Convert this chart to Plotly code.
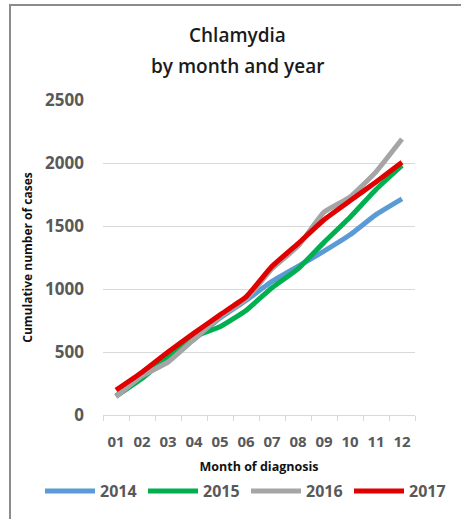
import plotly.graph_objects as go

months = ["01", "02", "03", "04", "05", "06", "07", "08", "09", "10", "11", "12"]
years = ["2014", "2015", "2016", "2017"]
cases_2014 = [150, 300, 470, 600, 770, 910, 1060, 1180, 1300, 1430, 1590, 1715]
cases_2015 = [150, 290, 460, 620, 700, 830, 1010, 1160, 1370, 1570, 1790, 1980]
cases_2016 = [145, 310, 420, 600, 780, 920, 1160, 1340, 1610, 1730, 1930, 2190]
cases_2017 = [198, 340, 500, 650, 795, 937, 1180, 1360, 1550, 1700, 1850, 2005]
y_ticks = [0, 500, 1000, 1500, 2000, 2500]
title_lines = ["Chlamydia", "by month and year"]

series = [cases_2014, cases_2015, cases_2016, cases_2017]
colors = ["#5B9BD5", "#00B050", "#A5A5A5", "#E00000"]

FONT = "Open Sans"
fig = go.Figure()
for name, vals, col in zip(years, series, colors):
    fig.add_trace(go.Scatter(
        x=months, y=vals, name=name, mode="lines",
        line=dict(color=col, width=5, shape="spline", smoothing=0.4),
    ))

title_font = dict(family=FONT, size=19, color="#1a1a1a", weight=600)
annotations = []
for txt, ypx in zip(title_lines, [35, 66]):
    annotations.append(dict(
        text=txt, xref="paper", yref="paper", x=(237 - 103) / 312, y=(415 - ypx) / 315,
        xanchor="center", yanchor="middle", showarrow=False, font=title_font,
    ))

fig.update_layout(
    width=461, height=519,
    margin=dict(l=103, r=46, t=100, b=104, autoexpand=False),
    paper_bgcolor="white", plot_bgcolor="white",
    font=dict(family=FONT, color="#595959"),
    annotations=annotations,
    xaxis=dict(
        type="category", range=[-0.5, 11.5], automargin=True, tickangle=0,
        showgrid=False, showline=True, linecolor="#D9D9D9", linewidth=1,
        ticks="outside", tickson="boundaries", ticklen=5, tickcolor="#D9D9D9",
        ticklabelstandoff=13,
        tickfont=dict(family=FONT, size=15, color="#595959", weight="bold"),
        title=dict(text="Month of diagnosis", standoff=12,
                   font=dict(family=FONT, size=12.5, color="#111111", weight="bold")),
    ),
    yaxis=dict(
        range=[0, 2500], tickvals=y_ticks, automargin=False,
        showgrid=True, gridcolor="#D9D9D9", gridwidth=1, zeroline=False,
        showline=False, ticks="", ticklabelstandoff=18,
        tickfont=dict(family=FONT, size=17, color="#595959", weight="bold"),
        title=dict(text="Cumulative number of cases", standoff=9,
                   font=dict(family=FONT, size=12, color="#111111", weight="bold")),
    ),
    legend=dict(
        orientation="h", x=(40 - 103) / 312, xanchor="left",
        y=(415 - 491) / 315, yanchor="middle",
        font=dict(family=FONT, size=16, color="#595959", weight="bold"),
        itemwidth=50, tracegroupgap=0, entrywidth=38, entrywidthmode="pixels",
    ),
    shapes=[dict(
        type="rect", xref="paper", yref="paper",
        x0=(10 - 103) / 312, x1=(480 - 103) / 312,
        y0=(415 - 540) / 315, y1=(415 - 5) / 315,
        line=dict(color="#8C8C8C", width=2), fillcolor="rgba(0,0,0,0)", layer="below",
    )],
)

fig.write_html("out.html")
